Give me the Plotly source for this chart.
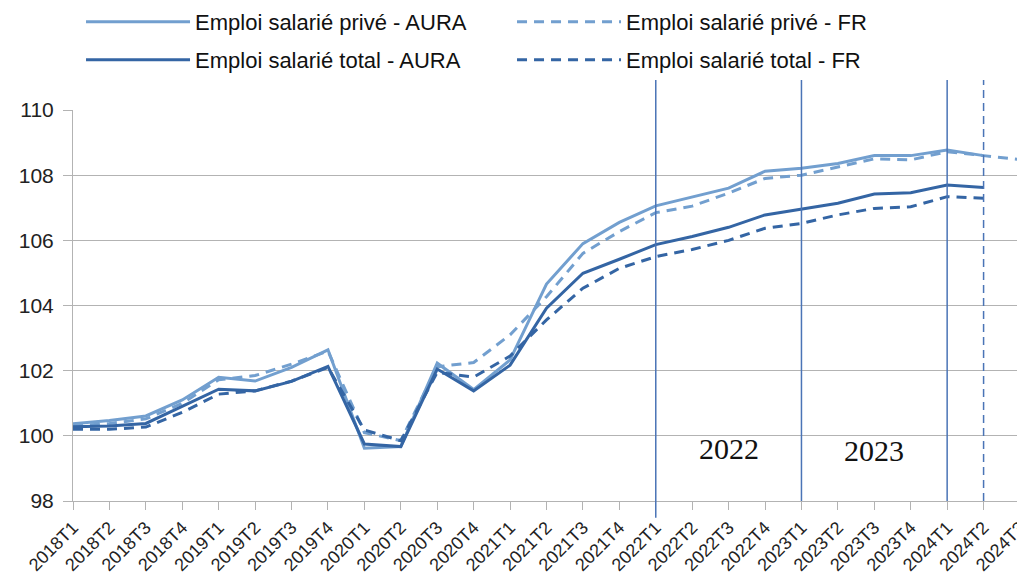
import plotly.graph_objects as go

categories = [f"{y}T{q}" for y in range(2018, 2025) for q in range(1, 5)][:27]

prive_aura = [100.37, 100.47, 100.61, 101.10,
              101.80, 101.68, 102.10, 102.64,
              99.62, 99.67, 102.23, 101.42,
              102.33, 104.66, 105.90, 106.55,
              107.06, 107.33, 107.60, 108.12,
              108.21, 108.36, 108.60, 108.60,
              108.77, 108.60, None]
prive_fr = [100.30, 100.38, 100.52, 101.00,
            101.72, 101.85, 102.20, 102.60,
            100.10, 99.85, 102.12, 102.25,
            103.10, 104.27, 105.60, 106.27,
            106.85, 107.05, 107.45, 107.90,
            108.00, 108.26, 108.50, 108.47,
            108.72, 108.60, 108.48]
total_aura = [100.28, 100.30, 100.38, 100.90,
              101.43, 101.38, 101.67, 102.13,
              99.75, 99.67, 102.05, 101.38,
              102.17, 103.92, 104.99, 105.42,
              105.87, 106.12, 106.40, 106.78,
              106.95, 107.14, 107.42, 107.46,
              107.70, 107.62, None]
total_fr = [100.20, 100.20, 100.27, 100.72,
            101.28, 101.38, 101.68, 102.10,
            100.18, 99.85, 101.95, 101.80,
            102.45, 103.56, 104.53, 105.14,
            105.50, 105.72, 106.00, 106.37,
            106.52, 106.78, 106.98, 107.03,
            107.34, 107.29, None]

series_names = ["Emploi salarié privé - AURA", "Emploi salarié privé - FR",
                "Emploi salarié total - AURA", "Emploi salarié total - FR"]
y_ticks = [98, 100, 102, 104, 106, 108, 110]
solid_marks = ["2022T1", "2023T1", "2024T1"]
dashed_mark = "2024T2"
year_labels = ["2022", "2023"]
year_label_x = ["2022T3", "2023T3"]
year_label_y = [99.6, 99.55]

LIGHT = "#729fcf"
DARK = "#3465a4"
VLINE = "#4a74b6"
GRID = "#b3b3b3"

fig = go.Figure()
styles = [(prive_aura, LIGHT, "solid", "legend"), (prive_fr, LIGHT, "10px,7px", "legend"),
          (total_aura, DARK, "solid", "legend2"), (total_fr, DARK, "10px,7px", "legend2")]
for name, (vals, col, dash, leg) in zip(series_names, styles):
    fig.add_trace(go.Scatter(x=categories, y=vals, name=name, mode="lines",
                             line=dict(color=col, width=3, dash=dash),
                             connectgaps=False, legend=leg))

for c in solid_marks:
    y0 = -0.043 if c == "2022T1" else 0
    fig.add_shape(type="line", xref="x", yref="paper", x0=c, x1=c, y0=y0, y1=1.077,
                  line=dict(color=VLINE, width=1.5))
fig.add_shape(type="line", xref="x", yref="paper", x0=dashed_mark, x1=dashed_mark,
              y0=0, y1=1.077, line=dict(color=VLINE, width=1.5, dash="8px,5px"))

for t, xc, yc in zip(year_labels, year_label_x, year_label_y):
    fig.add_annotation(x=xc, y=yc, xref="x", yref="y", text=t, showarrow=False,
                       font=dict(family="Liberation Serif", size=30, color="#111"))

legend_common = dict(orientation="h", xref="container", yref="paper",
                     xanchor="left", yanchor="middle",
                     entrywidth=312, entrywidthmode="pixels", itemwidth=104,
                     font=dict(size=22, family="Liberation Sans", color="#111"),
                     bgcolor="rgba(0,0,0,0)")

fig.update_layout(
    width=1017, height=574,
    margin=dict(l=65, r=5, t=102, b=81, autoexpand=False),
    paper_bgcolor="white", plot_bgcolor="white",
    font=dict(family="Liberation Sans", color="#222"),
    showlegend=True,
    legend=dict(x=0.0718, y=1.2251, **legend_common),
    legend2=dict(x=0.0718, y=1.1279, **legend_common),
)
fig.update_xaxes(type="category", categoryorder="array", categoryarray=categories,
                 range=[0, 26], tickangle=-45, tickfont=dict(size=18, color="#222"),
                 ticks="outside", ticklen=8, tickcolor=GRID, showgrid=False,
                 showline=True, linecolor=GRID, linewidth=1, zeroline=False,
                 automargin=False)
fig.update_yaxes(range=[98, 110], tickvals=y_ticks, tickfont=dict(size=21, color="#222"),
                 ticks="outside", ticklen=9, tickcolor=GRID, showgrid=True,
                 gridcolor=GRID, gridwidth=1, showline=True, linecolor=GRID,
                 mirror="ticks", zeroline=False, automargin=False,
                 ticklabelstandoff=5)

fig.write_html("out.html")
